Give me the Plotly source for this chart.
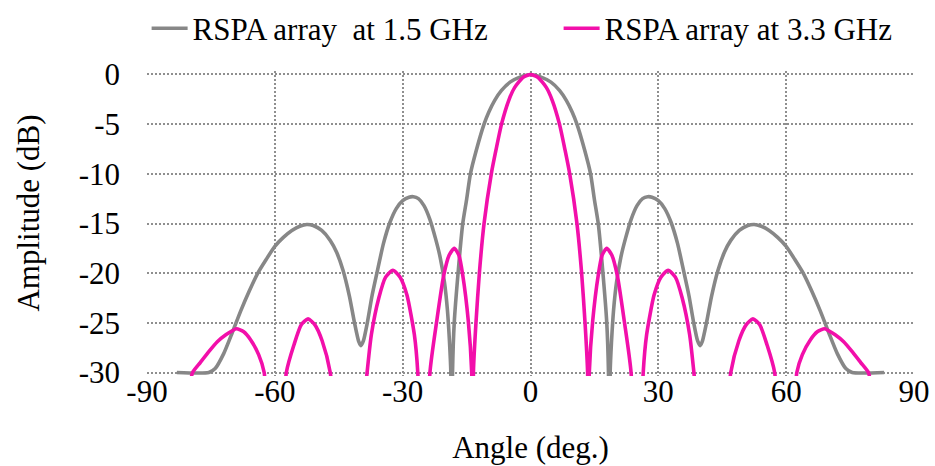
import plotly.graph_objects as go

# ---- data ----
# 1.5 GHz pattern (grey)
angle_15 = [-83.0, -75.5, -74.0, -72.0, -70.0, -68.0, -66.0, -64.0, -62.0, -60.0, -58.0, -56.0,
            -54.0, -52.5, -51.0, -49.0, -47.0, -45.5, -44.0, -42.5, -41.3, -40.3, -39.8, -39.2,
            -38.3, -37.2, -36.0, -34.5, -33.0, -31.5, -30.0, -28.5, -27.5, -26.3, -25.0, -23.6,
            -22.3, -21.2, -20.2, -19.5, -19.0, -18.7, -18.55, -18.3, -17.9, -17.0, -15.9, -15.0,
            -14.1, -12.7, -10.9, -9.8, -8.4, -6.8, -4.8, -2.5, 0.0,
            2.5, 4.8, 6.8, 8.4, 9.8, 10.9, 12.7, 14.1, 15.0, 15.9, 17.0, 17.9, 18.3, 18.55, 18.7,
            19.0, 19.5, 20.2, 21.2, 22.3, 23.6, 25.0, 26.3, 27.5, 28.5, 30.0, 31.5, 33.0, 34.5,
            36.0, 37.2, 38.3, 39.2, 39.8, 40.3, 41.3, 42.5, 44.0, 45.5, 47.0, 49.0, 51.0, 52.5,
            54.0, 56.0, 58.0, 60.0, 62.0, 64.0, 66.0, 68.0, 70.0, 72.0, 74.0, 75.5, 83.0]
amp_15 = [-30.0, -30.0, -29.6, -28.1, -26.0, -23.8, -21.8, -20.0, -18.6, -17.3, -16.4, -15.7,
          -15.25, -15.1, -15.2, -15.7, -16.7, -17.9, -19.7, -22.3, -25.0, -26.9, -27.3, -26.8,
          -25.0, -22.3, -19.9, -17.0, -14.9, -13.5, -12.7, -12.35, -12.3, -12.5, -13.2, -14.6,
          -16.5, -18.4, -20.9, -23.7, -27.0, -30.0, -45.0, -30.0, -25.0, -20.0, -15.0, -12.6,
          -10.0, -7.6, -5.0, -3.8, -2.6, -1.6, -0.77, -0.27, 0.0,
          -0.27, -0.77, -1.6, -2.6, -3.8, -5.0, -7.6, -10.0, -12.6, -15.0, -20.0, -25.0, -30.0, -45.0, -30.0,
          -27.0, -23.7, -20.9, -18.4, -16.5, -14.6, -13.2, -12.5, -12.3, -12.35, -12.7, -13.5, -14.9, -17.0,
          -19.9, -22.3, -25.0, -26.8, -27.3, -26.9, -25.0, -22.3, -19.7, -17.9, -16.7, -15.7, -15.2, -15.1,
          -15.25, -15.7, -16.4, -17.3, -18.6, -20.0, -21.8, -23.8, -26.0, -28.1, -29.6, -30.0, -30.0]

# 3.3 GHz pattern (magenta)
angle_33 = [-80.0, -79.3, -77.5, -75.5, -73.5, -71.5, -70.0, -69.0, -67.3, -65.7, -63.8, -62.5,
            -60.0, -57.3, -55.5, -53.8, -52.2, -50.6, -48.9, -47.0, -42.8, -38.35, -37.35, -35.6,
            -34.0, -32.3, -30.6, -29.0, -27.25, -26.45, -25.0, -23.6, -22.0, -20.4, -19.1, -17.9,
            -16.8, -15.9, -14.6, -13.8, -13.6, -13.4, -12.8, -12.0, -10.9, -9.2, -8.1, -6.8, -5.1,
            -3.7, -1.7, 0.0,
            1.7, 3.7, 5.1, 6.8, 8.1, 9.2, 10.9, 12.0, 12.8, 13.4, 13.6, 13.8, 14.6, 15.9, 16.8,
            17.9, 19.1, 20.4, 22.0, 23.6, 25.0, 26.45, 27.25, 29.0, 30.6, 32.3, 34.0, 35.6, 37.35,
            38.35, 42.8, 47.0, 48.9, 50.6, 52.2, 53.8, 55.5, 57.3, 60.0, 62.5, 63.8, 65.7, 67.3,
            69.0, 70.0, 71.5, 73.5, 75.5, 77.5, 79.3, 80.0]
amp_33 = [-31.5, -30.0, -29.0, -27.9, -26.9, -26.2, -25.8, -25.6, -25.9, -26.7, -28.2, -30.0,
          -50.0, -30.0, -27.2, -25.2, -24.6, -25.2, -26.8, -30.0, -50.0, -30.0, -26.2, -22.5,
          -20.4, -19.7, -20.4, -22.2, -26.2, -30.0, -50.0, -30.0, -24.8, -20.3, -18.2, -17.5,
          -18.2, -20.2, -24.8, -30.0, -50.0, -30.0, -25.0, -20.0, -15.0, -10.0, -7.6, -5.0, -2.6,
          -1.3, -0.27, 0.0,
          -0.27, -1.3, -2.6, -5.0, -7.6, -10.0, -15.0, -20.0, -25.0, -30.0, -50.0, -30.0, -24.8, -20.2, -18.2,
          -17.5, -18.2, -20.3, -24.8, -30.0, -50.0, -30.0, -26.2, -22.2, -20.4, -19.7, -20.4, -22.5, -26.2,
          -30.0, -50.0, -30.0, -26.8, -25.2, -24.6, -25.2, -27.2, -30.0, -50.0, -30.0, -28.2, -26.7, -25.9,
          -25.6, -25.8, -26.2, -26.9, -27.9, -29.0, -30.0, -31.5]

series_names = ["RSPA array\u00a0 at 1.5 GHz", "RSPA array at 3.3 GHz"]
x_ticks = [-90, -60, -30, 0, 30, 60, 90]
x_ticklabels = ["-90", "-60", "-30", "0", "30", "60", "90"]
y_ticks = [0, -5, -10, -15, -20, -25, -30]
y_ticklabels = ["0", "-5", "-10", "-15", "-20", "-25", "-30"]
x_title = "Angle (deg.)"
y_title = "Amplitude (dB)"

FONT = "Liberation Serif"
FS = 31
GRID = "#8f8f8f"

fig = go.Figure()
fig.add_trace(go.Scatter(x=angle_15, y=amp_15, mode="lines", name=series_names[0],
                         line=dict(color="#878787", width=3.6, shape="spline", smoothing=0.6)))
fig.add_trace(go.Scatter(x=angle_33, y=amp_33, mode="lines", name=series_names[1],
                         line=dict(color="#F20FAA", width=3.6, shape="spline", smoothing=0.6)))

fig.update_layout(
    width=935, height=466,
    margin=dict(l=146.5, r=21, t=70.5, b=90.2, pad=0, autoexpand=False),
    paper_bgcolor="white", plot_bgcolor="white",
    font=dict(family=FONT, size=FS, color="black"),
    showlegend=True,
    legend=dict(orientation="h", x=-0.0005, y=1.139, xanchor="left", yanchor="middle",
                font=dict(family=FONT, size=FS, color="black"),
                itemwidth=36,
                entrywidth=361, entrywidthmode="pixels",
                bgcolor="rgba(0,0,0,0)", borderwidth=0),
    xaxis=dict(range=[-90, 90], tickvals=x_ticks, ticktext=x_ticklabels,
               showgrid=True, gridcolor=GRID, gridwidth=1.6, griddash="2px,2px",
               zeroline=False, showline=False, ticks="", ticklabelstandoff=-6,
               tickfont=dict(family=FONT, size=FS, color="black"),
               title=dict(text=x_title, font=dict(family=FONT, size=FS, color="black"), standoff=28)),
    yaxis=dict(range=[-30.35, 0.35], tickvals=y_ticks, ticktext=y_ticklabels,
               showgrid=True, gridcolor=GRID, gridwidth=1.6, griddash="2px,2px",
               zeroline=False, showline=False, ticks="", ticklabelstandoff=26,
               tickfont=dict(family=FONT, size=FS, color="black")),
    annotations=[dict(text=y_title, textangle=-90, xref="paper", yref="paper",
                      x=-0.155, y=0.533, xanchor="center", yanchor="middle", showarrow=False,
                      font=dict(family=FONT, size=FS, color="black"))],
)

fig.write_html("out.html")
